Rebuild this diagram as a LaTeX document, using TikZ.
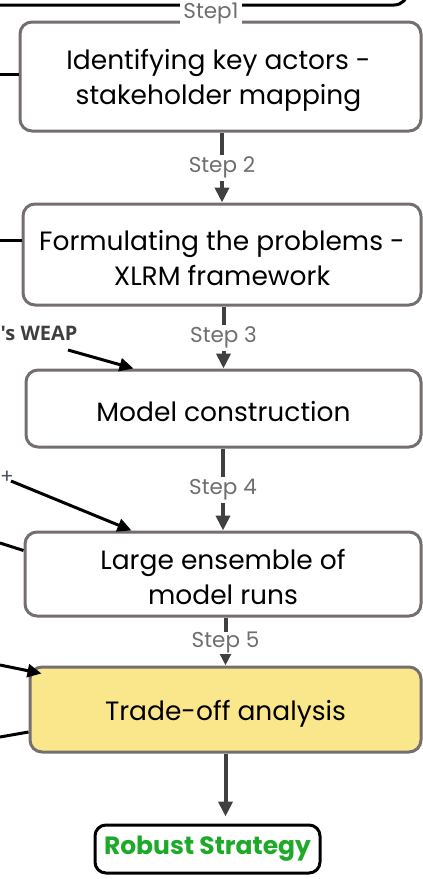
\documentclass[tikz,border=0pt]{standalone}
\usepackage{fontspec}
\setmainfont{Poppins}
\newfontfamily\labelfont{Open Sans}
\usetikzlibrary{arrows.meta,calc}

\definecolor{boxgray}{HTML}{756E6E}
\definecolor{flowgray}{HTML}{404040}
\definecolor{stepgray}{HTML}{6E6E6E}
\definecolor{tradeyellow}{HTML}{FBE78B}
\definecolor{robustgreen}{HTML}{1EAA28}
\definecolor{weapgray}{HTML}{3F3F3F}
\definecolor{plusgray}{HTML}{4A5366}

\tikzset{
  stagebox/.style={draw=boxgray, line width=3pt, rounded corners=12pt, fill=white, inner sep=0pt},
  stagetext/.style={align=center, font=\fontsize{26.5}{35}\selectfont, text=black, inner sep=0pt},
  flow/.style={draw=flowgray, line width=4pt, -{Triangle[width=14pt,length=15pt]}},
  steplbl/.style={fill=white, text=stepgray, font=\fontsize{21.5}{24}\selectfont,
    inner xsep=3pt, inner ysep=0pt, minimum height=26pt},
  feed/.style={draw=black, line width=3pt},
  feedarrow/.style={draw=black, line width=3pt, -{Triangle[width=13pt,length=14pt]}},
}

\begin{document}
\begin{tikzpicture}[x=1pt, y=-1pt]
\useasboundingbox (0,0) rectangle (423,879);
\clip (0,0) rectangle (423,879);

% framework box above the steps (only its lower edge is visible)
\draw[black, line width=3pt, rounded corners=14pt] (-40,-120) rectangle (408,5);

% process stages
\node[stagebox, minimum width=401pt, minimum height=109pt] (b1) at (220.5,76.5) {};
\node[stagebox, minimum width=398pt, minimum height=101pt] (b2) at (222,254.5) {};
\node[stagebox, minimum width=395pt, minimum height=77pt] (b3) at (223.5,408.5) {};
\node[stagebox, minimum width=396pt, minimum height=84pt] (b4) at (223,574) {};
\node[stagebox, fill=tradeyellow, minimum width=391pt, minimum height=85pt] (b5) at (225.5,709.5) {};

\node[stagetext] (t1) at ($(b1.center)+(-2,3.5)$) {Identifying key actors -\\stakeholder mapping};
\node[stagetext] (t2) at ($(b2.center)+(0,3.5)$) {Formulating the problems -\\XLRM framework};
\node[stagetext] (t3) at ($(b3.center)+(0,3)$) {Model construction};
\node[stagetext] (t4) at ($(b4.center)+(0,2.5)$) {Large ensemble of\\model runs};
\node[stagetext] (t5) at ($(b5.center)+(0,4)$) {Trade-off analysis};

\node[draw=black, line width=3pt, rounded corners=11pt, minimum width=225pt, minimum height=48pt,
  inner sep=0pt, text=robustgreen, font=\bfseries\fontsize{25}{28}\selectfont] (rs) at (207.5,849)
  {Robust Strategy};

% step label sitting on the top edges
\node[steplbl, minimum height=20pt] (s1) at (211,14) {Step1};

% main flow between stages
\draw[flow] (b1.south -| b2.north) -- node[steplbl] (s2) {Step 2} (b2.north);
\draw[flow] (b2.south -| b3.north) -- node[steplbl] (s3) {Step 3} (b3.north);
\draw[flow] (b3.south -| b4.north) -- node[steplbl] (s4) {Step 4} (b4.north);
\draw[flow] (b4.south -| b5.north) -- node[steplbl, minimum height=22pt, yshift=-1pt] (s5) {Step 5} (b5.north);
\draw[flow] (b5.south) -- ($(rs.north -| b5.south)+(0,-7)$);

% inputs arriving from the left
\coordinate (in1) at (0,74);
\coordinate (in2) at (0,240);
\coordinate (in3) at (68,350);
\coordinate (in4) at (11,481);
\coordinate (in5) at (0,543);
\coordinate (in6) at (0,665);
\coordinate (in7) at (0,737);

\node[anchor=west, inner sep=0pt, text=weapgray, font=\labelfont\bfseries\fontsize{20}{23}\selectfont]
  (weap) at (0.5,333) {'s WEAP};
\node[inner sep=0pt, text=plusgray, font=\fontsize{20}{22}\selectfont]
  (plus) at (7,477) {+};

\draw[feed] (in1) -- (in1 -| b1.west);
\draw[feed] (in2) -- (in2 -| b2.west);
\draw[feedarrow] (in3) -- ($(b3.north west)+(109,0)$);
\draw[feedarrow] (in4) -- ($(b4.north west)+(108,0)$);
\draw[feed] (in5) -- ($(b4.north west)+(0,20)$);
\draw[feedarrow] (in6) -- ($(b5.north west)+(13,8)$);
\draw[feed] (in7) -- ($(b5.west)+(0,22.5)$);
\end{tikzpicture}
\end{document}
